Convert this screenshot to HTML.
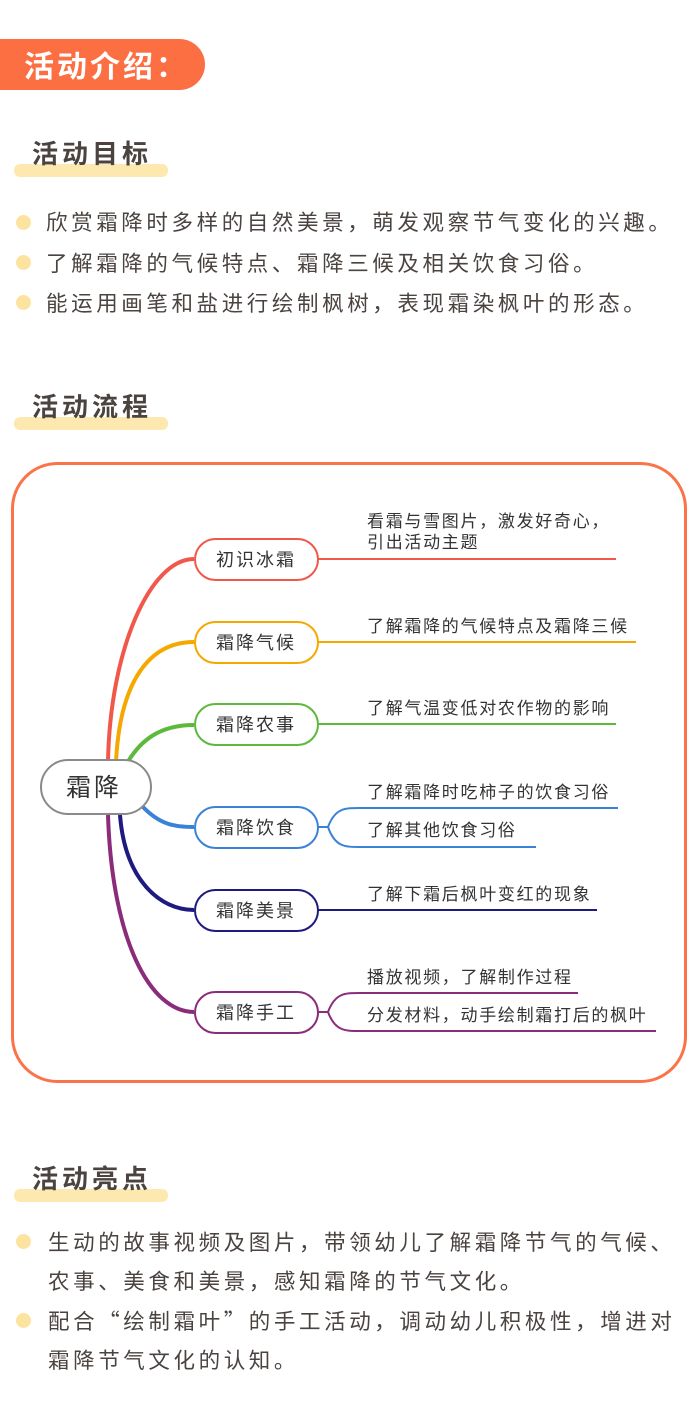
<!DOCTYPE html>
<html><head><meta charset="utf-8"><style>
body{margin:0;width:700px;height:1415px;background:#fff;position:relative;font-family:"Liberation Sans","Noto Sans CJK SC",sans-serif;color:#4a4340;overflow:hidden}
.pill{position:absolute;left:0;top:39px;width:205px;height:51px;background:#fb6f43;border-radius:0 26px 26px 0;color:#fff;font-size:30px;font-weight:bold;line-height:51px;padding-left:24px;box-sizing:border-box;letter-spacing:3px;white-space:nowrap;font-family:"Noto Sans CJK SC",sans-serif}
.hd{position:absolute;left:14px;width:154px;height:40px}
.hd .bar{position:absolute;left:0;bottom:0;width:154px;height:13px;background:#fde9b0;border-radius:6px}
.hd .t{position:absolute;left:18px;top:0;font-size:26px;font-weight:bold;color:#4a4340;letter-spacing:4px;line-height:34px;white-space:nowrap}
.li{position:absolute;left:46px;font-size:21.5px;letter-spacing:3.6px;line-height:39px;white-space:nowrap;font-family:"Noto Sans CJK SC",sans-serif}
.dot{position:absolute;left:16px;width:15px;height:15px;border-radius:50%;background:#fde3a0}
</style></head><body>
<div class="pill">活动介绍：</div>
<div class="hd" style="top:137px"><div class="bar"></div><div class="t">活动目标</div></div>
<div class="dot" style="top:215px"></div><div class="li" style="top:202px">欣赏霜降时多样的自然美景，萌发观察节气变化的兴趣。</div>
<div class="dot" style="top:255px"></div><div class="li" style="top:243px">了解霜降的气候特点、霜降三候及相关饮食习俗。</div>
<div class="dot" style="top:295px"></div><div class="li" style="top:283px">能运用画笔和盐进行绘制枫树，表现霜染枫叶的形态。</div>
<div class="hd" style="top:390px"><div class="bar"></div><div class="t">活动流程</div></div>
<svg style="position:absolute;left:0;top:0" width="700" height="1100" font-family="Liberation Sans, Noto Sans CJK SC, sans-serif">
<rect x="12.5" y="463.5" width="673" height="618" rx="45" fill="none" stroke="#fb7348" stroke-width="3"/>
<g fill="none">
<path d="M108,762 C110,650 150,559 194,559" stroke="#f0584a" stroke-width="4"/>
<path d="M116,762 C120,680 150,642 194,642" stroke="#f5a800" stroke-width="4"/>
<path d="M126,765 C140,740 160,725 194,725" stroke="#5cb93c" stroke-width="4"/>
<path d="M142,806 C160,825 175,827 194,827" stroke="#3a82d8" stroke-width="4"/>
<path d="M120,815 C125,880 160,910 194,910" stroke="#1e1a80" stroke-width="4"/>
<path d="M108,815 C112,940 150,1012 194,1012" stroke="#8a2c7a" stroke-width="4"/>
<path d="M318,559 H616" stroke="#f0584a" stroke-width="2"/>
<path d="M318,642 H636" stroke="#f5a800" stroke-width="2"/>
<path d="M318,724 H616" stroke="#5cb93c" stroke-width="2"/>
<path d="M318,827 H328 C335,808 345,808 360,808 H618 M328,827 C335,847 345,847 360,847 H536" stroke="#3a82d8" stroke-width="2"/>
<path d="M318,910 H597" stroke="#1e1a80" stroke-width="2"/>
<path d="M318,1012 H328 C335,993 345,993 360,993 H578 M328,1012 C335,1031 345,1031 360,1031 H656" stroke="#8a2c7a" stroke-width="2"/>
</g>
<g fill="#fff" stroke-width="2">
<rect x="41" y="760" width="110" height="54" rx="27" stroke="#8a8a8a"/>
<rect x="195" y="539" width="123" height="41" rx="20.5" stroke="#f0584a"/>
<rect x="195" y="622" width="123" height="41" rx="20.5" stroke="#f5a800"/>
<rect x="195" y="704" width="123" height="41" rx="20.5" stroke="#5cb93c"/>
<rect x="195" y="807" width="123" height="41" rx="20.5" stroke="#3a82d8"/>
<rect x="195" y="890" width="123" height="41" rx="20.5" stroke="#1e1a80"/>
<rect x="195" y="992" width="123" height="41" rx="20.5" stroke="#8a2c7a"/>
</g>
<g fill="#333" font-size="18" letter-spacing="2">
<text x="66" y="796" font-size="25" letter-spacing="3">霜降</text>
<text x="216" y="566">初识冰霜</text>
<text x="216" y="649">霜降气候</text>
<text x="216" y="731">霜降农事</text>
<text x="216" y="834">霜降饮食</text>
<text x="216" y="917">霜降美景</text>
<text x="216" y="1019">霜降手工</text>
</g>
<g fill="#333" font-size="17" letter-spacing="1.7">
<text x="367" y="527">看霜与雪图片，激发好奇心，</text>
<text x="367" y="548">引出活动主题</text>
<text x="367" y="632">了解霜降的气候特点及霜降三候</text>
<text x="367" y="714">了解气温变低对农作物的影响</text>
<text x="367" y="798">了解霜降时吃柿子的饮食习俗</text>
<text x="367" y="836">了解其他饮食习俗</text>
<text x="367" y="900">了解下霜后枫叶变红的现象</text>
<text x="367" y="983">播放视频，了解制作过程</text>
<text x="367" y="1021">分发材料，动手绘制霜打后的枫叶</text>
</g>
</svg>
<div class="hd" style="top:1162px"><div class="bar"></div><div class="t">活动亮点</div></div>
<div class="dot" style="top:1234px"></div><div class="li" style="top:1222px;left:48px">生动的故事视频及图片，带领幼儿了解霜降节气的气候、<br>农事、美食和美景，感知霜降的节气文化。</div>
<div class="dot" style="top:1313px"></div><div class="li" style="top:1301px;left:48px">配合“绘制霜叶”的手工活动，调动幼儿积极性，增进对<br>霜降节气文化的认知。</div>
</body></html>
